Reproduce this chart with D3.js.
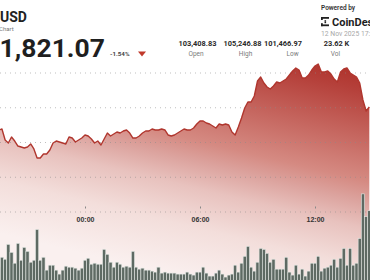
<!DOCTYPE html>
<html><head><meta charset="utf-8">
<script src="https://cdn.jsdelivr.net/npm/d3@7"></script>
<style>
html,body{margin:0;padding:0;background:#fff;overflow:hidden}
svg{display:block}
</style></head><body>
<svg id="c" width="370" height="280"></svg>
<script>
// ---------- data ----------
const startTime = "2025-11-11T19:30:00Z";
const stepMinutes = 10;
const prices = [103360,103388,103072,102985,103158,103043,102899,102870,102842,102870,
102957,102813,102554,102554,102669,102669,102784,102985,103043,103014,
102985,102957,103158,103129,103014,103072,103129,103216,103187,103101,
102985,103043,102928,103101,103273,103187,103244,103302,103273,103331,
103360,103273,103129,103129,103187,103273,103331,103331,103388,103360,
103360,103388,103360,103216,103187,103216,103273,103331,103388,103360,
103360,103417,103532,103619,103619,103561,103532,103475,103417,103532,
103503,103532,103503,103302,103216,103446,103705,103993,104165,104165,
104338,104770,104885,104712,104597,104540,104626,104741,104712,104770,
104827,104942,105058,105144,105086,104856,104856,104942,105086,105201,
105259,105029,105029,105058,104971,104827,104741,105029,105115,105144,
105000,104942,104885,104712,104223,103906,104021];
const volumes = [150,250,230,380,300,190,390,220,350,310,
200,220,530,220,250,120,170,170,120,80,
120,160,150,150,140,120,140,220,240,180,
190,180,180,330,280,200,150,200,180,150,
160,150,310,150,130,140,120,120,110,100,
150,90,100,90,90,90,80,80,80,100,
80,70,100,100,150,90,60,60,90,120,
80,50,70,80,170,100,190,260,360,150,
110,200,340,330,290,200,230,130,130,130,
250,100,70,170,80,130,60,110,190,190,
260,110,140,150,170,230,150,240,340,170,
340,170,190,440,890,660,720];
const gridValues = [101000,102000,103000,104000,105000];
const tickTimes = ["2025-11-12T00:00:00Z","2025-11-12T06:00:00Z","2025-11-12T12:00:00Z"];
const statValues = ["103,408.83","105,246.88","101,466.97","23.62 K"];
const statLabels = ["Open","High","Low","Vol"];
const pairText = "USD";
const subtitleText = "Chart";
const lastPriceText = "1,821.07";
const changeText = "-1.54%";
const poweredText = "Powered by";
const brandText = "CoinDesk";
const stampText = "12 Nov 2025 17:00";

// ---------- drawing ----------
const svg = d3.select("#c");
const W = 370, H = 280;
const t0 = Date.parse(startTime);
const times = prices.map((_, i) => new Date(t0 + i * stepMinutes * 60000));

const x = d3.scaleUtc()
  .domain([new Date("2025-11-12T00:00:00Z"), new Date("2025-11-12T12:00:00Z")])
  .range([85, 315]);
const y = d3.scaleLinear().domain([101000, 105000]).range([212, 73]);
const v = d3.scaleLinear().domain([0, 1000]).range([282, 183]);

const defs = svg.append("defs");
const grad = defs.append("linearGradient").attr("id", "fillGrad")
  .attr("gradientUnits", "userSpaceOnUse")
  .attr("x1", 370).attr("y1", 58).attr("x2", 310).attr("y2", 308);
[[0, "#ab2a22"], [0.13, "#b5403a"], [0.47, "#d58a82"], [0.55, "#dca39e"],
 [0.65, "#e8c2be"], [0.8, "#f3dedb"], [1, "#faf0ef"]]
  .forEach(([o, c]) => grad.append("stop").attr("offset", o).attr("stop-color", c));

const area = d3.area().x((d, i) => x(times[i])).y0(H).y1(d => y(d));
const line = d3.line().x((d, i) => x(times[i])).y(d => y(d));

svg.append("path").datum(prices).attr("d", area).attr("fill", "url(#fillGrad)");

// grid lines
svg.append("g").selectAll("line").data(gridValues).join("line")
  .attr("x1", 0).attr("x2", W)
  .attr("y1", d => y(d)).attr("y2", d => y(d))
  .attr("stroke", "#8a8a8a").attr("stroke-opacity", 0.55)
  .attr("stroke-width", 1).attr("stroke-dasharray", "1,4");

svg.append("path").datum(prices).attr("d", line)
  .attr("fill", "none").attr("stroke", "#b0362e").attr("stroke-width", 1.4)
  .attr("stroke-linejoin", "round");

// volume bars
const bw = x(new Date(t0 + stepMinutes * 60000)) - x(new Date(t0));
svg.append("g").selectAll("rect").data(volumes).join("rect")
  .attr("x", (d, i) => x(times[i]) - bw / 2)
  .attr("width", bw)
  .attr("y", d => v(d))
  .attr("height", d => v(0) - v(d))
  .attr("fill", "#5e6a63")
  .attr("stroke", "#e4e8e4").attr("stroke-width", 0.6);

// x axis
const axis = d3.axisBottom(x)
  .tickValues(tickTimes.map(s => new Date(s)))
  .tickFormat(d3.utcFormat("%H:%M"))
  .tickSize(2).tickPadding(9);
const gx = svg.append("g").attr("transform", "translate(0,206.5)").call(axis);
gx.select(".domain").remove();
gx.selectAll(".tick line").attr("stroke", "#888");
gx.selectAll(".tick text").attr("fill", "#333")
  .style("font", "700 7px 'Liberation Sans', Arial, sans-serif");

// ---------- header ----------
const hdr = svg.append("g");
hdr.append("text").attr("x", 0).attr("y", 22).text(pairText)
  .attr("fill", "#222").style("font", "700 14px Roboto, sans-serif");
hdr.append("text").attr("x", -1).attr("y", 31).text(subtitleText)
  .attr("fill", "#777").style("font", "400 6px Roboto, sans-serif");
hdr.append("text").attr("x", -0.5).attr("y", 57).text(lastPriceText)
  .attr("fill", "#1f1f1f").style("font", "700 26.5px Roboto, sans-serif");
hdr.append("text").attr("x", 110).attr("y", 56).text(changeText)
  .attr("fill", "#444").style("font", "700 6.2px Roboto, sans-serif");
hdr.append("path").attr("d", "M138,51.5 L146,51.5 L142,56.5 Z").attr("fill", "#c0392b");

const valX = [197.5, 242.5, 283, 336.5];
const labX = [196, 245.5, 292.5, 335.5];
hdr.selectAll("text.sv").data(statValues).join("text").attr("class", "sv")
  .attr("x", (d, i) => valX[i]).attr("y", 46).attr("text-anchor", "middle")
  .attr("fill", "#2a2a2a").style("font", "700 7.4px Roboto, sans-serif").text(d => d);
hdr.selectAll("text.sl").data(statLabels).join("text").attr("class", "sl")
  .attr("x", (d, i) => labX[i]).attr("y", 56).attr("text-anchor", "middle")
  .attr("fill", "#7a7a7a").style("font", "400 6.5px Roboto, sans-serif").text(d => d);

hdr.append("text").attr("x", 321).attr("y", 9.5).text(poweredText)
  .attr("fill", "#333").style("font", "600 6.5px Roboto, sans-serif");
// logo mark
const lg = hdr.append("g").attr("fill", "#222");
lg.append("rect").attr("x", 321).attr("y", 17).attr("width", 8).attr("height", 1.8);
lg.append("rect").attr("x", 321).attr("y", 24.4).attr("width", 8).attr("height", 1.8);
lg.append("rect").attr("x", 321).attr("y", 17).attr("width", 1.8).attr("height", 3);
lg.append("rect").attr("x", 321).attr("y", 23.2).attr("width", 1.8).attr("height", 3);
lg.append("rect").attr("x", 324.5).attr("y", 20.2).attr("width", 1.6).attr("height", 1.6);
lg.append("rect").attr("x", 324.5).attr("y", 22).attr("width", 1.6).attr("height", 1.2);
hdr.append("text").attr("x", 332).attr("y", 25.5).text(brandText)
  .attr("fill", "#1e1e1e").style("font", "700 11px Roboto, sans-serif");
hdr.append("text").attr("x", 321).attr("y", 36).text(stampText)
  .attr("fill", "#a8a8a8").style("font", "400 6.8px Roboto, sans-serif");
</script>
</body></html>
